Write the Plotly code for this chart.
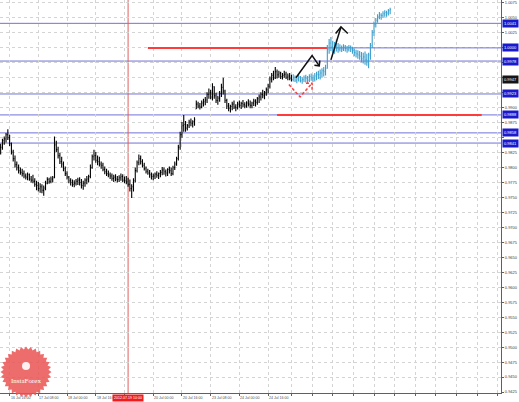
import math
import plotly.graph_objects as go

# H1 bars, bar index 0 = 16 Jul 00:00
first_bar = 11
bar_high = [
    .9840, .9848, .9852, .9858, .9864, .9855, .9842, .9830, .9820, .9810,
    .9805, .9800, .9798, .9795, .9790, .9792, .9790, .9786, .9788, .9782,
    .9778, .9776, .9774, .9772, .9770, .9778, .9784, .9783, .9785, .9786,
    .9852, .9845, .9835, .9825, .9818, .9810, .9802, .9794, .9786, .9782,
    .9780, .9779, .9781, .9783, .9784, .9781, .9778, .9782, .9786, .9788,
    .9805, .9822, .9830, .9826, .9820, .9818, .9810, .9808, .9802, .9798,
    .9795, .9792, .9790, .9788, .9789, .9786, .9787, .9790, .9789, .9785,
    .9786, .9783, .9780, .9772, .9782, .9800, .9812, .9822, .9820, .9814,
    .9808, .9802, .9798, .9796, .9792, .9790, .9792, .9794, .9792, .9796,
    .9801, .9800, .9797, .9799, .9802, .9800, .9803, .9810, .9818, .9838,
    .9860, .9876, .9888, .9878, .9873, .9880, .9882, .9879, .9884,
    .9912, .9910, .9908, .9912, .9915, .9918, .9926, .9932, .9930, .9941, .9936,
    .9925, .9920, .9928, .9940, .9950, .9930, .9915, .9908, .9905, .9910,
    .9912, .9906, .9910, .9912, .9910, .9913, .9909, .9911, .9914, .9912,
    .9910, .9915, .9914, .9918, .9922, .9926, .9930, .9928, .9934, .9940,
    .9952, .9958, .9962, .9968, .9964, .9962, .9960, .9958, .9962, .9960,
    .9957, .9958, .9955,
]
bar_low = [
    .9822, .9830, .9838, .9842, .9846, .9836, .9822, .9810, .9800, .9795,
    .9790, .9788, .9785, .9782, .9780, .9779, .9778, .9775, .9774, .9768,
    .9762, .9760, .9758, .9757, .9753, .9762, .9772, .9773, .9774, .9775,
    .9782, .9826, .9815, .9806, .9800, .9794, .9786, .9780, .9774, .9770,
    .9768, .9767, .9770, .9771, .9770, .9765, .9763, .9768, .9772, .9775,
    .9782, .9798, .9812, .9808, .9804, .9802, .9798, .9794, .9789, .9786,
    .9784, .9781, .9778, .9776, .9777, .9775, .9776, .9778, .9776, .9774,
    .9772, .9768, .9760, .9749, .9760, .9775, .9792, .9804, .9805, .9800,
    .9795, .9790, .9788, .9783, .9780, .9779, .9781, .9783, .9781, .9784,
    .9787, .9788, .9785, .9786, .9790, .9786, .9787, .9796, .9803, .9812,
    .9830, .9850, .9860, .9860, .9862, .9866, .9869, .9867, .9870,
    .9898, .9899, .9897, .9899, .9902, .9904, .9908, .9915, .9914, .9912, .9915,
    .9908, .9905, .9910, .9918, .9922, .9908, .9898, .9894, .9892, .9896,
    .9898, .9894, .9897, .9900, .9898, .9901, .9899, .9900, .9902, .9899,
    .9899, .9903, .9902, .9905, .9908, .9912, .9916, .9914, .9920, .9924,
    .9932, .9942, .9946, .9948, .9949, .9950, .9948, .9947, .9950, .9948,
    .9946, .9946, .9944,
]
bar_close = [
    .9834, .9845, .9848, .9855, .9850, .9840, .9826, .9815, .9805, .9800,
    .9795, .9792, .9790, .9786, .9784, .9788, .9781, .9779, .9777, .9772,
    .9770, .9765, .9768, .9762, .9766, .9774, .9780, .9777, .9781, .9783,
    .9838, .9830, .9820, .9810, .9806, .9798, .9790, .9784, .9778, .9775,
    .9772, .9774, .9777, .9779, .9775, .9770, .9774, .9779, .9781, .9785,
    .9800, .9818, .9820, .9812, .9810, .9806, .9804, .9797, .9793, .9790,
    .9788, .9786, .9782, .9784, .9781, .9780, .9783, .9785, .9779, .9778,
    .9776, .9772, .9765, .9768, .9778, .9795, .9808, .9815, .9810, .9804,
    .9798, .9794, .9791, .9788, .9785, .9786, .9789, .9787, .9790, .9792,
    .9796, .9793, .9791, .9797, .9795, .9790, .9800, .9806, .9815, .9834,
    .9855, .9870, .9872, .9866, .9870, .9876, .9874, .9877, .9880,
    .9906, .9903, .9901, .9908, .9910, .9913, .9922, .9925, .9918, .9935, .9920,
    .9912, .9916, .9924, .9934, .9928, .9912, .9903, .9899, .9902, .9906,
    .9901, .9900, .9906, .9904, .9907, .9905, .9903, .9908, .9906, .9904,
    .9908, .9911, .9909, .9915, .9918, .9922, .9920, .9925, .9930, .9936,
    .9948, .9954, .9950, .9960, .9955, .9958, .9952, .9954, .9956, .9951,
    .9953, .9949, .9947,
]

# forecast bars (blue)
fc_first = 174
fc_high = [
    .9956, .9954, .9952, .9955, .9953, .9951, .9954,
    .9955, .9953, .9956, .9957, .9955, .9958,
    .9960, .9962, .9964, .9966, .9968, .9972,
    1.0005, 1.0015, 1.0018, 1.0012, 1.0010, 1.0014, 1.0008,
    1.0006, 1.0004, 1.0006, 1.0005, 1.0003, 1.0005, 1.0004, 1.0002, .9999, .9997, .9996,
    .9995, .9993, .9992, .9994, .9990, .9992,
    1.0008, 1.0030, 1.0044, 1.0050,
    1.0056, 1.0060, 1.0058, 1.0061, 1.0063, 1.0062, 1.0065, 1.0067,
]
fc_low = [
    .9944, .9943, .9941, .9944, .9942, .9940, .9943,
    .9942, .9941, .9943, .9945, .9943, .9944,
    .9946, .9948, .9947, .9950, .9952, .9954,
    .9965, .9990, .9995, .9992, .9990, .9994, .9992,
    .9994, .9993, .9995, .9994, .9992, .9994, .9993, .9990, .9986, .9984, .9982,
    .9980, .9976, .9974, .9972, .9970, .9966,
    .9980, 1.0000, 1.0020, 1.0034,
    1.0042, 1.0048, 1.0047, 1.0050, 1.0052, 1.0052, 1.0054, 1.0056,
]
fc_close = [
    .9950, .9946, .9948, .9951, .9945, .9947, .9950,
    .9949, .9946, .9952, .9950, .9948, .9953,
    .9956, .9955, .9958, .9962, .9960, .9966,
    .9998, 1.0008, 1.0002, .9998, 1.0004, 1.0000, .9998,
    1.0000, .9998, 1.0002, .9999, .9997, 1.0001, .9998, .9995, .9992, .9990, .9988,
    .9986, .9982, .9985, .9980, .9978, .9988,
    1.0004, 1.0026, 1.0040, 1.0046,
    1.0052, 1.0055, 1.0054, 1.0057, 1.0059, 1.0058, 1.0062, 1.0064,
]

# time axis labels (19 Jul 08:00 sits under the red time-line label)
time_idx = [0, 16, 32, 48, 64, 96, 112, 128, 144, 160]
time_text = ["16 Jul 00:00", "16 Jul 16:00", "17 Jul 08:00", "18 Jul 00:00",
             "18 Jul 16:00", "20 Jul 00:00", "20 Jul 16:00",
             "23 Jul 08:00", "24 Jul 00:00", "24 Jul 16:00"]
grid_idx = [0, 16, 32, 48, 64, 80, 96, 112, 128, 144, 160,
            173, 184.5, 196, 207.5, 219, 230.5, 242, 253.5, 265, 276.5, 288]
time_line_idx = 82
time_line_text = "2012.07.19 10:00"

price_ticks = [1.0075, 1.0050, 1.0025, 1.0000, 0.9975, 0.9950, 0.9925, 0.9900,
               0.9875, 0.9850, 0.9825, 0.9800, 0.9775, 0.9750, 0.9725, 0.9700,
               0.9675, 0.9650, 0.9625, 0.9600, 0.9575, 0.9550, 0.9525, 0.9500,
               0.9475, 0.9450, 0.9425]
# labels hidden behind the level tags are left blank
price_text = ["1.0075", "1.0050", "1.0025", "", "", "", "", "0.9900",
              "0.9875", "", "0.9825", "0.9800", "0.9775", "0.9750", "0.9725", "0.9700",
              "0.9675", "0.9650", "0.9625", "0.9600", "0.9575", "0.9550", "0.9525", "0.9500",
              "0.9475", "0.9450", "0.9425"]

# levels
blue_levels = [1.0041, 0.9978, 0.9923, 0.9888, 0.9858, 0.9841]
blue_partial = [(1.0000, 193)]
red_segments = [(1.0000, 93, 193), (0.9888, 165, 279)]
tag_levels = [1.0041, 1.0000, 0.9978, 0.9923, 0.9888, 0.9858, 0.9841]
bid_price = 0.9947

# drawn arrows (bar index, price)
black_zig_x = [175.5, 184.5, 188.5]
black_zig_y = [0.9950, 0.9987, 0.9970]
black_zig_head_x = [185.8, 188.5, 188.8]
black_zig_head_y = [0.9971, 0.9970, 0.9979]
black_up_x = [195.0, 200.6]
black_up_y = [0.9980, 1.0035]
black_up_head_x = [197.6, 200.6, 204.4]
black_up_head_y = [1.0024, 1.0035, 1.0024]
red_v_x = [171.6, 177.8, 184.5]
red_v_y = [0.9939, 0.9918, 0.9941]
red_v_head_x = [181.1, 184.5, 184.5]
red_v_head_y = [0.9941, 0.9941, 0.9930]

fig = go.Figure()

x_bars = list(range(first_bar, first_bar + len(bar_close)))
bar_open = [bar_close[0]] + bar_close[:-1]
bar_open = [min(max(o, l), h) for o, l, h in zip(bar_open, bar_low, bar_high)]
fig.add_trace(go.Ohlc(x=x_bars, open=bar_open, high=bar_high, low=bar_low, close=bar_close,
                      increasing_line_color='#000000', decreasing_line_color='#000000',
                      line_width=1.1, tickwidth=0.4, hoverinfo='skip'))

x_fc = list(range(fc_first, fc_first + len(fc_close)))
fc_open = [bar_close[-1]] + fc_close[:-1]
fc_open = [min(max(o, l), h) for o, l, h in zip(fc_open, fc_low, fc_high)]
fig.add_trace(go.Ohlc(x=x_fc, open=fc_open, high=fc_high, low=fc_low, close=fc_close,
                      increasing_line_color='#3a9fcd', decreasing_line_color='#3a9fcd',
                      line_width=1.1, tickwidth=0.4, hoverinfo='skip'))

for xs, ys in [(black_zig_x, black_zig_y), (black_zig_head_x, black_zig_head_y),
               (black_up_x, black_up_y), (black_up_head_x, black_up_head_y)]:
    fig.add_trace(go.Scatter(x=xs, y=ys, mode='lines', line=dict(color='#111111', width=1.5),
                             hoverinfo='skip'))
for xs, ys in [(red_v_x, red_v_y), (red_v_head_x, red_v_head_y)]:
    fig.add_trace(go.Scatter(x=xs, y=ys, mode='lines',
                             line=dict(color='#ff3c3c', width=1.5, dash='3px,2px'),
                             hoverinfo='skip'))

shapes = []
for lvl in blue_levels:
    shapes.append(dict(type='line', xref='paper', x0=0, x1=1, yref='y', y0=lvl, y1=lvl,
                       line=dict(color='#7272d8', width=1), layer='between'))
for lvl, x0 in blue_partial:
    shapes.append(dict(type='line', xref='x', x0=x0, x1=300, yref='y', y0=lvl, y1=lvl,
                       line=dict(color='#7272d8', width=1), layer='between'))
for lvl, x0, x1 in red_segments:
    shapes.append(dict(type='line', xref='x', x0=x0, x1=x1, yref='y', y0=lvl, y1=lvl,
                       line=dict(color='#ff3c3c', width=2), layer='between'))
shapes.append(dict(type='line', xref='x', x0=time_line_idx, x1=time_line_idx, yref='paper',
                   y0=0, y1=1, line=dict(color='#e06060', width=1), layer='between'))

# InstaForex badge (bottom left)
pw, ph = 501.0, 393.0
cx, cy = 26.0, 372.0
pts = []
for i in range(64):
    r = 25.5 if i % 2 == 0 else 22.5
    a = math.pi * 2 * i / 64
    px = cx + r * math.cos(a)
    py = cy + r * math.sin(a)
    pts.append('%.4f,%.4f' % (px / pw, 1 - py / ph))
shapes.append(dict(type='path', xref='paper', yref='paper', path='M' + 'L'.join(pts) + 'Z',
                   fillcolor='rgba(234,84,84,0.85)', line=dict(width=0), layer='above'))
shapes.append(dict(type='circle', xref='paper', yref='paper',
                   x0=(cx - 4) / pw, x1=(cx + 4) / pw, y0=1 - (cy - 2) / ph, y1=1 - (cy - 10) / ph,
                   fillcolor='rgba(255,255,255,0.9)', line=dict(width=0), layer='above'))

annotations = []
for k, t in zip(time_idx, time_text):
    annotations.append(dict(x=k, y=0, xref='x', yref='paper', text=t, showarrow=False,
                            xanchor='left', yanchor='top', xshift=-1, yshift=-1,
                            font=dict(size=3.6, color='#505050')))
annotations.append(dict(x=time_line_idx, y=0, xref='x', yref='paper', text=time_line_text,
                        showarrow=False, xanchor='center', yanchor='top', yshift=-1,
                        bgcolor='#ee1c1c', borderpad=1, font=dict(size=3.6, color='white')))
for lvl in tag_levels:
    annotations.append(dict(x=1, y=lvl, xref='paper', yref='y', text='%.4f' % lvl,
                            showarrow=False, xanchor='left', yanchor='middle', xshift=1,
                            bgcolor='#1a1acc', borderpad=1, font=dict(size=4, color='white')))
annotations.append(dict(x=1, y=bid_price, xref='paper', yref='y', text='%.4f' % bid_price,
                        showarrow=False, xanchor='left', yanchor='middle', xshift=1,
                        bgcolor='#151515', borderpad=1, font=dict(size=4, color='white')))
annotations.append(dict(x=cx / pw, y=1 - 381 / ph, xref='paper', yref='paper', text='InstaForex',
                        showarrow=False, xanchor='center', yanchor='middle',
                        font=dict(size=7, color='white', family='Liberation Serif')))

fig.update_layout(
    width=519, height=402,
    margin=dict(l=0, r=18, t=0, b=9),
    showlegend=False,
    plot_bgcolor='white', paper_bgcolor='white',
    font=dict(family='Liberation Sans'),
    shapes=shapes, annotations=annotations,
    xaxis=dict(range=[10.64, 289.75], tickvals=grid_idx, showticklabels=False,
               showgrid=True, gridcolor='#d4d4d4', griddash='dot', gridwidth=1,
               showline=True, linecolor='#606060', linewidth=1, zeroline=False,
               ticks='outside', ticklen=2, tickcolor='#606060',
               rangeslider=dict(visible=False), fixedrange=True),
    yaxis=dict(range=[0.94234, 1.00800], side='right', tickvals=price_ticks,
               ticktext=price_text,
               tickfont=dict(size=4, color='#404040'),
               showgrid=True, gridcolor='#d4d4d4', griddash='dot', gridwidth=1,
               showline=True, linecolor='#606060', linewidth=1, zeroline=False,
               ticks='outside', ticklen=2, tickcolor='#606060', automargin=False),
)

fig.write_html("out.html", config={'displayModeBar': False},
               post_script="document.body.style.margin='0';document.body.style.overflow='hidden';")
